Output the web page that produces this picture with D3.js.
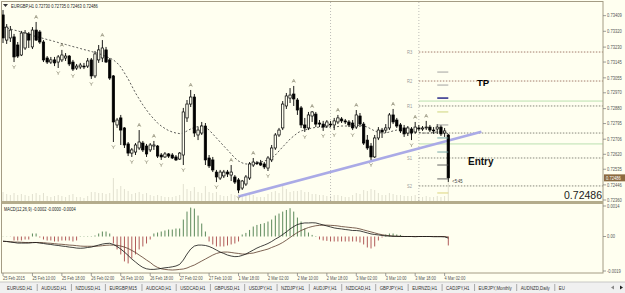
<!DOCTYPE html>
<html>
<head>
<meta charset="utf-8">
<script src="https://cdn.jsdelivr.net/npm/d3@7"></script>
<style>
  body { margin: 0; background: #f0f0f0; }
  svg { display: block; font-family: "Liberation Sans", Arial, sans-serif; }
</style>
</head>
<body>
<div id="chart"></div>
<script>
// EURGBP H1
const open = [0.73413,0.73270,0.73282,0.73288,0.73242,0.73185,0.73225,0.73305,0.73231,0.73327,
  0.73316,0.73259,0.73168,0.73145,0.73157,0.73145,0.73157,0.73168,0.73179,0.73145,
  0.73111,0.73117,0.73122,0.73122,0.73157,0.73066,0.73157,0.73168,0.73214,0.73157,
  0.73066,0.72787,0.72827,0.72770,0.72679,0.72627,0.72633,0.72656,0.72684,0.72667,
  0.72645,0.72667,0.72667,0.72616,0.72605,0.72622,0.72616,0.72605,0.72593,0.72616,
  0.72827,0.72906,0.72946,0.72730,0.72741,0.72781,0.72599,0.72588,0.72519,0.72485,
  0.72497,0.72519,0.72502,0.72491,0.72474,0.72428,0.72451,0.72485,0.72559,0.72571,
  0.72571,0.72565,0.72542,0.72588,0.72656,0.72730,0.72770,0.72895,0.72940,0.72963,
  0.72929,0.72884,0.72787,0.72770,0.72838,0.72849,0.72798,0.72792,0.72781,0.72792,
  0.72787,0.72804,0.72821,0.72810,0.72804,0.72798,0.72775,0.72838,0.72792,0.72701,
  0.72667,0.72605,0.72713,0.72758,0.72758,0.72770,0.72844,0.72815,0.72787,0.72770,
  0.72741,0.72764,0.72747,0.72770,0.72764,0.72770,0.72775,0.72758,0.72764,0.72775,
  0.72741,0.72730];
const high = [0.73441,0.73361,0.73350,0.73305,0.73259,0.73322,0.73327,0.73316,0.73344,0.73373,
  0.73327,0.73270,0.73179,0.73174,0.73174,0.73185,0.73214,0.73196,0.73185,0.73157,
  0.73134,0.73140,0.73140,0.73168,0.73168,0.73208,0.73242,0.73270,0.73231,0.73168,
  0.73071,0.72827,0.72844,0.72775,0.72690,0.72656,0.72684,0.72758,0.72696,0.72679,
  0.72684,0.72696,0.72673,0.72627,0.72633,0.72627,0.72627,0.72616,0.72633,0.72884,
  0.72929,0.72986,0.72963,0.72775,0.72804,0.72798,0.72616,0.72605,0.72531,0.72531,
  0.72531,0.72531,0.72559,0.72502,0.72485,0.72474,0.72502,0.72576,0.72599,0.72582,
  0.72588,0.72576,0.72610,0.72673,0.72741,0.72770,0.72923,0.72969,0.72997,0.73009,
  0.72940,0.72895,0.72827,0.72861,0.72866,0.72861,0.72815,0.72810,0.72815,0.72810,
  0.72827,0.72844,0.72832,0.72821,0.72815,0.72815,0.72872,0.72855,0.72804,0.72730,
  0.72684,0.72730,0.72775,0.72770,0.72792,0.72855,0.72878,0.72827,0.72798,0.72787,
  0.72781,0.72775,0.72804,0.72787,0.72781,0.72810,0.72787,0.72775,0.72792,0.72787,
  0.72770,0.72735];
const low = [0.73253,0.73248,0.73259,0.73145,0.73168,0.73179,0.73214,0.73225,0.73219,0.73265,
  0.73248,0.73145,0.73134,0.73134,0.73122,0.73111,0.73145,0.73151,0.73122,0.73094,
  0.73100,0.73105,0.73105,0.73111,0.73049,0.73054,0.73140,0.73145,0.73140,0.73043,
  0.72690,0.72770,0.72673,0.72656,0.72610,0.72605,0.72616,0.72645,0.72633,0.72605,
  0.72633,0.72645,0.72599,0.72588,0.72599,0.72599,0.72593,0.72582,0.72588,0.72559,
  0.72804,0.72889,0.72719,0.72701,0.72730,0.72559,0.72542,0.72519,0.72462,0.72474,
  0.72485,0.72491,0.72468,0.72451,0.72400,0.72417,0.72440,0.72474,0.72548,0.72559,
  0.72554,0.72536,0.72525,0.72576,0.72645,0.72719,0.72758,0.72878,0.72912,0.72895,
  0.72844,0.72770,0.72747,0.72758,0.72804,0.72775,0.72775,0.72753,0.72770,0.72775,
  0.72758,0.72792,0.72798,0.72792,0.72775,0.72758,0.72764,0.72775,0.72673,0.72645,
  0.72588,0.72599,0.72701,0.72713,0.72741,0.72758,0.72792,0.72770,0.72741,0.72719,
  0.72724,0.72701,0.72736,0.72753,0.72753,0.72758,0.72747,0.72736,0.72736,0.72724,
  0.72719,0.72463];
const close = [0.73282,0.73344,0.73327,0.73174,0.73179,0.73310,0.73310,0.73270,0.73327,0.73270,
  0.73259,0.73157,0.73145,0.73157,0.73140,0.73174,0.73185,0.73179,0.73134,0.73105,
  0.73122,0.73128,0.73117,0.73151,0.73066,0.73191,0.73214,0.73225,0.73145,0.73054,
  0.72804,0.72815,0.72758,0.72673,0.72627,0.72645,0.72673,0.72690,0.72645,0.72622,
  0.72673,0.72673,0.72610,0.72605,0.72622,0.72610,0.72599,0.72588,0.72627,0.72861,
  0.72906,0.72946,0.72741,0.72758,0.72781,0.72588,0.72554,0.72531,0.72491,0.72519,
  0.72519,0.72508,0.72519,0.72462,0.72417,0.72468,0.72491,0.72565,0.72576,0.72570,
  0.72559,0.72548,0.72599,0.72656,0.72730,0.72758,0.72906,0.72952,0.72957,0.72935,
  0.72872,0.72787,0.72770,0.72844,0.72861,0.72792,0.72792,0.72775,0.72804,0.72787,
  0.72810,0.72827,0.72810,0.72804,0.72787,0.72770,0.72844,0.72792,0.72684,0.72656,
  0.72605,0.72713,0.72758,0.72747,0.72770,0.72844,0.72804,0.72781,0.72753,0.72736,
  0.72770,0.72741,0.72775,0.72764,0.72770,0.72775,0.72758,0.72753,0.72775,0.72736,
  0.72753,0.72486];

// faint tick volume at the bottom of the price panel
const volume = [900,700,600,800,600,700,600,500,700,800,
  600,800,500,400,500,600,500,400,600,700,
  400,400,300,500,900,900,800,800,700,800,
  2300,1200,1500,1200,1000,700,800,900,700,800,
  600,500,600,500,400,400,400,500,600,1700,
  1200,1000,1400,900,800,1500,900,800,900,600,
  500,500,700,600,900,700,600,800,600,400,
  400,400,700,900,1000,800,1500,1200,900,1000,
  1000,1100,900,900,700,700,600,600,500,500,
  600,600,500,400,400,600,800,700,1100,1000,
  1200,1100,800,600,600,800,700,600,600,500,
  500,500,600,400,400,500,400,400,500,400,
  500,2000];

// dashed moving average
const maLine = [0.73342,0.73339,0.73333,0.73327,0.73322,0.73316,0.73310,0.73305,0.73296,0.73290,
  0.73285,0.73279,0.73273,0.73268,0.73262,0.73256,0.73250,0.73245,0.73239,0.73233,
  0.73228,0.73222,0.73216,0.73211,0.73205,0.73199,0.73194,0.73185,0.73176,0.73168,
  0.73157,0.73140,0.73117,0.73083,0.73049,0.73009,0.72969,0.72935,0.72901,0.72872,
  0.72844,0.72821,0.72798,0.72781,0.72767,0.72755,0.72747,0.72741,0.72738,0.72741,
  0.72753,0.72764,0.72773,0.72778,0.72781,0.72775,0.72758,0.72736,0.72713,0.72690,
  0.72667,0.72645,0.72622,0.72599,0.72582,0.72571,0.72565,0.72565,0.72571,0.72573,
  0.72576,0.72582,0.72588,0.72599,0.72616,0.72639,0.72662,0.72684,0.72707,0.72724,
  0.72741,0.72753,0.72758,0.72764,0.72770,0.72773,0.72775,0.72775,0.72775,0.72775,
  0.72775,0.72778,0.72781,0.72781,0.72781,0.72781,0.72784,0.72784,0.72781,0.72775,
  0.72764,0.72753,0.72744,0.72741,0.72741,0.72747,0.72753,0.72758,0.72758,0.72755,
  0.72753,0.72750,0.72747,0.72744,0.72741,0.72741,0.72741,0.72744,0.72747,0.72747,
  0.72747,0.72736];

// fractal bars
const upFractals = [9, 16, 27, 37, 41, 51, 62, 68, 79, 84, 91, 96, 106, 112, 115];
const downFractals = [3, 15, 19, 24, 30, 35, 39, 43, 49, 58, 64, 72, 82, 87, 90, 95, 100, 111];

// MACD(12,26,9)
const macdHist = [0.00001,0.00001,-0.00001,-0.00020,-0.00020,-0.00020,-0.00015,-0.00015,0.00015,0.00015,
  -0.00005,-0.00015,-0.00020,-0.00020,-0.00025,-0.00025,-0.00020,-0.00020,-0.00020,-0.00025,
  -0.00020,0.00002,0.00002,0.00002,0.00002,0.00005,0.00015,0.00025,0.00025,0.00015,
  -0.00035,-0.00065,-0.00090,-0.00125,-0.00135,-0.00110,-0.00090,-0.00065,-0.00050,-0.00035,
  -0.00015,0.00015,0.00020,0.00025,0.00030,0.00035,0.00035,0.00040,0.00040,0.00085,
  0.00125,0.00145,0.00140,0.00105,0.00065,0.00025,-0.00025,-0.00040,-0.00050,-0.00050,
  -0.00050,-0.00045,-0.00040,-0.00035,-0.00025,0.00010,0.00018,0.00033,0.00050,0.00058,
  0.00063,0.00067,0.00075,0.00085,0.00105,0.00115,0.00125,0.00133,0.00142,0.00125,
  0.00095,0.00075,0.00040,0.00020,0.00008,0.00000,-0.00015,-0.00020,-0.00022,-0.00025,
  -0.00025,-0.00025,-0.00025,-0.00025,-0.00025,-0.00025,-0.00025,-0.00030,-0.00040,-0.00055,
  -0.00060,-0.00050,-0.00020,-0.00005,0.00010,0.00015,0.00015,0.00010,0.00008,0.00002,
  0.00001,0.00001,-0.00001,0.00001,0.00001,0.00001,-0.00001,0.00001,0.00001,-0.00001,
  -0.00002,-0.00045];
const macdMain = [-0.00023,-0.00025,-0.00028,-0.00030,-0.00033,-0.00033,-0.00033,-0.00033,-0.00031,-0.00030,
  -0.00033,-0.00035,-0.00038,-0.00040,-0.00043,-0.00045,-0.00048,-0.00050,-0.00053,-0.00055,
  -0.00058,-0.00059,-0.00058,-0.00055,-0.00053,-0.00048,-0.00043,-0.00038,-0.00035,-0.00034,
  -0.00040,-0.00050,-0.00063,-0.00078,-0.00095,-0.00113,-0.00128,-0.00143,-0.00155,-0.00162,
  -0.00165,-0.00165,-0.00163,-0.00160,-0.00157,-0.00155,-0.00152,-0.00148,-0.00140,-0.00118,
  -0.00088,-0.00063,-0.00048,-0.00043,-0.00043,-0.00045,-0.00050,-0.00058,-0.00068,-0.00078,
  -0.00085,-0.00093,-0.00098,-0.00101,-0.00100,-0.00095,-0.00088,-0.00078,-0.00068,-0.00058,
  -0.00050,-0.00043,-0.00035,-0.00025,-0.00013,-0.00003,0.00010,0.00023,0.00038,0.00050,
  0.00060,0.00065,0.00068,0.00068,0.00069,0.00068,0.00063,0.00058,0.00053,0.00048,
  0.00043,0.00040,0.00038,0.00035,0.00033,0.00030,0.00030,0.00028,0.00023,0.00018,
  0.00013,0.00010,0.00008,0.00005,0.00003,0.00002,0.00001,0.00001,0,0,
  0,0,-0.00001,0,0,0,0,-0.00001,-0.00001,-0.00001,
  -0.00002,-0.00008];
const macdSignal = [-0.00025,-0.00025,-0.00026,-0.00028,-0.00028,-0.00029,-0.00030,-0.00030,-0.00030,-0.00030,
  -0.00030,-0.00031,-0.00033,-0.00034,-0.00036,-0.00038,-0.00039,-0.00041,-0.00043,-0.00044,
  -0.00046,-0.00048,-0.00049,-0.00049,-0.00049,-0.00049,-0.00048,-0.00046,-0.00044,-0.00043,
  -0.00043,-0.00044,-0.00048,-0.00053,-0.00060,-0.00070,-0.00080,-0.00093,-0.00105,-0.00118,
  -0.00130,-0.00145,-0.00155,-0.00162,-0.00165,-0.00167,-0.00168,-0.00167,-0.00165,-0.00163,
  -0.00158,-0.00150,-0.00143,-0.00133,-0.00123,-0.00113,-0.00103,-0.00093,-0.00085,-0.00080,
  -0.00078,-0.00078,-0.00080,-0.00083,-0.00085,-0.00088,-0.00088,-0.00085,-0.00083,-0.00078,
  -0.00073,-0.00068,-0.00063,-0.00055,-0.00048,-0.00040,-0.00030,-0.00018,-0.00005,0.00008,
  0.00020,0.00030,0.00038,0.00045,0.00050,0.00054,0.00056,0.00057,0.00057,0.00056,
  0.00055,0.00053,0.00050,0.00048,0.00046,0.00044,0.00042,0.00038,0.00033,0.00028,
  0.00023,0.00018,0.00013,0.00009,0.00006,0.00004,0.00002,0.00001,0.00001,0,
  0,0,0,0,0,0,0,0,0,0,
  0,-0.00003];

// axes
const priceTicks = [0.73409,0.73320,0.73230,0.73145,0.73055,0.72970,0.72880,0.72795,0.72706,0.72620,0.72535,0.72446,0.72360];
const macdTickLabels = ["0.0014", "0.00", "-0.0019"];
const timeLabels = ["25 Feb 2015","25 Feb 10:00","25 Feb 18:00","26 Feb 02:00","26 Feb 10:00","26 Feb 18:00",
  "27 Feb 02:00","27 Feb 10:00","1 Mar 18:00","2 Mar 02:00","2 Mar 10:00","2 Mar 18:00",
  "3 Mar 02:00","3 Mar 10:00","3 Mar 18:00","4 Mar 02:00"];
const timeLabelBars = [0,8,16,24,32,40,48,56,64,72,80,88,96,104,112,120];

// drawn objects
const trendBars = [64, 130];
const trendPrices = [0.72380, 0.72749];
const vLineBars = [89, 113];
const levelNames = ["R3", "R2", "R1", "PP", "S1", "S2"];
const levelPrices = [0.73202, 0.73037, 0.72895, 0.72741, 0.72599, 0.72440];
const greenLevels = [0.72923, 0.72679];
const markerPrices = [0.73088, 0.73014, 0.72940, 0.72861, 0.72787, 0.72713, 0.72633, 0.72559, 0.72480, 0.72400];
const lastPrice = 0.72486;

const tabs = ["EURUSD,H1","AUDUSD,H1","NZDUSD,H1","EURGBP,M15","AUDCAD,H1","USDCAD,H1","GBPUSD,H1",
  "USDJPY,H1","NZDJPY,H1","AUDJPY,H1","NZDCAD,H1","GBPJPY,H1","EURNZD,H1","CADJPY,H1",
  "EURJPY,Monthly","AUDNZD,Daily","EU"];

// ---- setup
const W = 625, H = 293;
const svg = d3.select("#chart").append("svg").attr("width", W).attr("height", H);

const x = d3.scaleLinear().domain([0, 121]).range([3, 448.3]);
const y = d3.scaleLinear().domain([0.72360, 0.73498]).range([200, 0]);
const yv = d3.scaleLinear().domain([0, 2500]).range([201, 176]);
const ym = d3.scaleLinear().domain([-0.00173, 0.00153]).range([271, 206]);
const fmt = d3.format(".5f");

function tiny(g, px, py, str, size, sx) {
  return g.append("text")
    .attr("transform", `translate(${px},${py}) scale(${sx},1)`)
    .attr("font-size", size)
    .text(str);
}

// backgrounds
svg.append("rect").attr("width", W).attr("height", H).attr("fill", "#f0f0f0");
svg.append("rect").attr("width", W).attr("height", 282).attr("fill", "#fffff0");

const bars = d3.range(open.length);

// volumes
svg.selectAll(".vol").data(bars).enter().append("line")
  .attr("x1", i => x(i)).attr("x2", i => x(i))
  .attr("y1", yv(0)).attr("y2", i => yv(volume[i]))
  .attr("stroke", "#dedccc").attr("stroke-width", 0.9);

// faint vertical lines
svg.selectAll(".vline").data(vLineBars).enter().append("line")
  .attr("x1", d => x(d)).attr("x2", d => x(d))
  .attr("y1", 2).attr("y2", 201)
  .attr("stroke", "#a0a0a0").attr("stroke-width", 0.7).attr("stroke-dasharray", "1,2");

// pivot levels
const lvlX0 = x(113), lvlX1 = 603;
svg.selectAll(".lvl").data(levelPrices).enter().append("line")
  .attr("x1", lvlX0).attr("x2", lvlX1)
  .attr("y1", d => y(d)).attr("y2", d => y(d))
  .attr("stroke", (d, i) => i < 2 ? "#8c5a4a" : "#6a6a60")
  .attr("stroke-width", 0.8).attr("stroke-dasharray", "1.5,1.5");
svg.selectAll(".glvl").data(greenLevels).enter().append("line")
  .attr("x1", lvlX0).attr("x2", lvlX1)
  .attr("y1", d => y(d)).attr("y2", d => y(d))
  .attr("stroke", "#a8d8a0").attr("stroke-width", 0.8);
levelNames.forEach((n, i) => {
  tiny(svg, 407, y(levelPrices[i]) + 2, n, 4.5, 0.9).attr("fill", "#999");
});

// trend line
svg.append("line")
  .attr("x1", x(trendBars[0])).attr("y1", y(trendPrices[0]))
  .attr("x2", x(trendBars[1])).attr("y2", y(trendPrices[1]))
  .attr("stroke", "#aaaae6").attr("stroke-width", 2.6);

// moving average
svg.append("path")
  .attr("d", d3.line().x((d, i) => x(i)).y(d => y(d))(maLine))
  .attr("fill", "none").attr("stroke", "#333").attr("stroke-width", 0.8)
  .attr("stroke-dasharray", "2,2");

// candles
const bw = 2.4;
const candle = svg.selectAll(".candle").data(bars).enter().append("g");
candle.append("line")
  .attr("x1", i => x(i)).attr("x2", i => x(i))
  .attr("y1", i => y(high[i])).attr("y2", i => y(low[i]))
  .attr("stroke", "#000").attr("stroke-width", 0.9);
candle.append("rect")
  .attr("x", i => x(i) - bw / 2)
  .attr("y", i => y(Math.max(open[i], close[i])))
  .attr("width", bw)
  .attr("height", i => Math.max(0.8, Math.abs(y(open[i]) - y(close[i]))))
  .attr("fill", i => close[i] >= open[i] ? "#fffff0" : "#000")
  .attr("stroke", "#000").attr("stroke-width", 0.7);

// fractal arrows
svg.selectAll(".fu").data(upFractals).enter().append("path")
  .attr("transform", i => `translate(${x(i)},${y(high[i]) - 5})`)
  .attr("d", "M-1.6,1.6L0,-1.6L1.6,1.6M-0.9,0.5L0.9,0.5")
  .attr("fill", "none").attr("stroke", "#76725a").attr("stroke-width", 0.6);
svg.selectAll(".fd").data(downFractals).enter().append("path")
  .attr("transform", i => `translate(${x(i)},${y(low[i]) + 5})`)
  .attr("d", "M-1.6,-1.6L0,0.3L1.6,-1.6M0,0.3L0,1.8")
  .attr("fill", "none").attr("stroke", "#76725a").attr("stroke-width", 0.6);

// short level markers near last bar
const markerColors = ["#999","#999","#1a1a80","#c8d070","#999","#6aa0a0","#6aa0a0","#555","#555","#d8d070"];
svg.selectAll(".mk").data(markerPrices).enter().append("line")
  .attr("x1", x(118)).attr("x2", x(121))
  .attr("y1", d => y(d)).attr("y2", d => y(d))
  .attr("stroke", (d, i) => markerColors[i])
  .attr("stroke-width", (d, i) => i === 2 ? 1.4 : 0.9);

// labels on the chart
svg.append("text").attr("x", 477).attr("y", 85.5).attr("font-size", 9.5)
  .attr("font-weight", "bold").text("TP");
svg.append("text").attr("x", 468).attr("y", 165).attr("font-size", 10)
  .attr("font-weight", "bold").attr("fill", "#111").text("Entry");
svg.append("text").attr("x", 602).attr("y", 199).attr("font-size", 10.5)
  .attr("text-anchor", "end").attr("fill", "#222").text(fmt(lastPrice));
tiny(svg, x(121) + 4, y(low[121]) + 1, "<5:45", 4.5, 0.9).attr("fill", "#333");

// title
svg.append("path").attr("d", "M3,4L8,4L5.5,7Z").attr("fill", "#333");
tiny(svg, 11, 7.5, "EURGBP,H1  0.72730 0.72735 0.72463 0.72486", 5, 0.82).attr("fill", "#222");

// frames
svg.append("rect").attr("x", 1.5).attr("y", 1.5).attr("width", 601.5).attr("height", 271.5)
  .attr("fill", "none").attr("stroke", "#a49c84");
svg.append("rect").attr("x", 1.5).attr("y", 201).attr("width", 601.5).attr("height", 3)
  .attr("fill", "#b4ac8c");

// price axis
priceTicks.forEach(p => {
  svg.append("line").attr("x1", 603).attr("x2", 606).attr("y1", y(p)).attr("y2", y(p))
    .attr("stroke", "#777").attr("stroke-width", 0.7);
  tiny(svg, 607, y(p) + 1.7, fmt(p), 4.8, 0.85).attr("fill", "#555");
});
svg.append("rect").attr("x", 604).attr("y", y(lastPrice) - 3.5).attr("width", 21).attr("height", 7)
  .attr("fill", "#8b6a40");
tiny(svg, 606, y(lastPrice) + 1.8, fmt(lastPrice), 4.8, 0.85).attr("fill", "#fff");

// MACD
svg.selectAll(".hist").data(bars).enter().append("line")
  .attr("x1", i => x(i)).attr("x2", i => x(i))
  .attr("y1", ym(0)).attr("y2", i => ym(macdHist[i]) + (macdHist[i] === 0 ? 0.5 : 0))
  .attr("stroke", i => macdHist[i] >= 0 ? "#4a7c4a" : "#a84848")
  .attr("stroke-width", 0.9);
const mline = d3.line().x((d, i) => x(i)).y(d => ym(d));
svg.append("path").attr("d", mline(macdSignal))
  .attr("fill", "none").attr("stroke", "#5a3a2a").attr("stroke-width", 0.8);
svg.append("path").attr("d", mline(macdMain))
  .attr("fill", "none").attr("stroke", "#111").attr("stroke-width", 0.8);
tiny(svg, 4, 210.5, "MACD(12,26,9) -0.0002 -0.0000 -0.0004", 5, 0.8).attr("fill", "#222");

const macdTickPos = [ym.domain()[1], 0, ym.domain()[0]];
macdTickLabels.forEach((t, i) => {
  svg.append("line").attr("x1", 603).attr("x2", 606)
    .attr("y1", ym(macdTickPos[i])).attr("y2", ym(macdTickPos[i]))
    .attr("stroke", "#777").attr("stroke-width", 0.7);
  tiny(svg, 607, ym(macdTickPos[i]) + 1.7, t, 4.8, 0.85).attr("fill", "#555");
});

// time axis
timeLabels.forEach((t, i) => {
  const px = x(timeLabelBars[i]);
  svg.append("line").attr("x1", px).attr("x2", px).attr("y1", 273).attr("y2", 276)
    .attr("stroke", "#777").attr("stroke-width", 0.7);
  tiny(svg, px, 279.8, t, 5, 0.78).attr("fill", "#555");
});

// tab strip
svg.append("line").attr("x1", 0).attr("x2", W).attr("y1", 282).attr("y2", 282)
  .attr("stroke", "#bbb").attr("stroke-width", 0.8);
let tx = 3;
tabs.forEach((t, i) => {
  const txt = tiny(svg, tx + 4, 289.5, t, 5.6, 0.78).attr("fill", "#333");
  const w = txt.node().getComputedTextLength() * 0.78;
  tx += w + 9;
  if (i < tabs.length - 1) {
    svg.append("line").attr("x1", tx).attr("x2", tx).attr("y1", 284).attr("y2", 291)
      .attr("stroke", "#888").attr("stroke-width", 0.7);
  }
});
svg.append("rect").attr("x", 608).attr("y", 283).attr("width", 17).attr("height", 10).attr("fill", "#f0f0f0");
svg.append("path").attr("d", "M614,285.5L611,287.5L614,289.5Z").attr("fill", "#888");
svg.append("path").attr("d", "M620,285.5L623,287.5L620,289.5Z").attr("fill", "#222");
</script>
</body>
</html>
